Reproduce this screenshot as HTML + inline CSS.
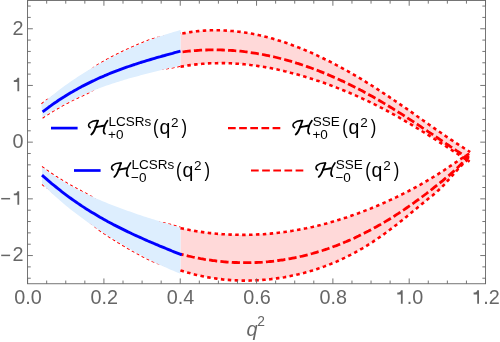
<!DOCTYPE html>
<html><head><meta charset="utf-8"><title>plot</title><style>html,body{margin:0;padding:0;background:#fff;overflow:hidden}</style></head><body><svg width="500" height="342" viewBox="0 0 500 342" style="display:block;will-change:transform;font-family:'Liberation Sans',sans-serif">
<rect width="500" height="342" fill="#ffffff"/>
<polygon points="180.5,33.9 182.5,33.5 184.5,33.1 186.5,32.8 188.5,32.4 190.5,32.1 192.5,31.8 194.5,31.6 196.5,31.3 198.5,31.1 200.5,30.9 202.5,30.8 204.5,30.6 206.5,30.5 208.5,30.4 210.5,30.3 212.5,30.3 214.5,30.3 216.5,30.3 218.5,30.3 220.5,30.3 222.5,30.4 224.5,30.5 226.5,30.6 228.5,30.7 230.5,30.9 232.5,31.0 234.5,31.2 236.5,31.4 238.5,31.7 240.5,31.9 242.5,32.2 244.5,32.5 246.5,32.8 248.5,33.1 250.5,33.5 252.5,33.8 254.5,34.2 256.5,34.6 258.5,35.1 260.5,35.5 262.5,36.0 264.5,36.5 266.5,37.0 268.5,37.5 270.5,38.0 272.5,38.6 274.5,39.2 276.5,39.8 278.5,40.4 280.5,41.0 282.5,41.7 284.5,42.3 286.5,43.0 288.5,43.7 290.5,44.4 292.5,45.2 294.5,45.9 296.5,46.7 298.5,47.4 300.5,48.2 302.5,49.1 304.5,49.9 306.5,50.7 308.5,51.6 310.5,52.4 312.5,53.3 314.5,54.2 316.5,55.1 318.5,56.1 320.5,57.0 322.5,58.0 324.5,59.0 326.5,59.9 328.5,60.9 330.5,61.9 332.5,63.0 334.5,64.0 336.5,65.1 338.5,66.1 340.5,67.2 342.5,68.3 344.5,69.4 346.5,70.5 348.5,71.6 350.5,72.8 352.5,73.9 354.5,75.1 356.5,76.3 358.5,77.4 360.5,78.6 362.5,79.8 364.5,81.1 366.5,82.3 368.5,83.5 370.5,84.8 372.5,86.0 374.5,87.3 376.5,88.6 378.5,89.9 380.5,91.1 382.5,92.5 384.5,93.8 386.5,95.1 388.5,96.4 390.5,97.8 392.5,99.1 394.5,100.5 396.5,101.8 398.5,103.2 400.5,104.6 402.5,106.0 404.5,107.4 406.5,108.7 408.5,110.1 410.5,111.5 412.5,112.9 414.5,114.3 416.5,115.8 418.5,117.2 420.5,118.6 422.5,120.0 424.5,121.4 426.5,122.8 428.5,124.2 430.5,125.6 432.5,127.0 434.5,128.4 436.5,129.8 438.5,131.2 440.5,132.5 442.5,133.9 444.5,135.3 446.5,136.7 448.5,138.0 450.5,139.4 452.5,140.7 454.5,142.0 456.5,143.3 458.5,144.6 460.5,145.9 462.5,147.2 464.5,148.5 466.5,149.8 468.5,151.0 470.2,152.0 469.6,161.7 468.5,160.9 466.5,159.7 464.5,158.4 462.5,157.1 460.5,155.8 458.5,154.5 456.5,153.2 454.5,151.9 452.5,150.6 450.5,149.3 448.5,148.0 446.5,146.7 444.5,145.4 442.5,144.1 440.5,142.8 438.5,141.6 436.5,140.3 434.5,139.0 432.5,137.7 430.5,136.5 428.5,135.2 426.5,134.0 424.5,132.7 422.5,131.5 420.5,130.2 418.5,129.0 416.5,127.8 414.5,126.6 412.5,125.3 410.5,124.1 408.5,123.0 406.5,121.8 404.5,120.6 402.5,119.4 400.5,118.3 398.5,117.1 396.5,116.0 394.5,114.9 392.5,113.8 390.5,112.7 388.5,111.6 386.5,110.5 384.5,109.5 382.5,108.4 380.5,107.4 378.5,106.4 376.5,105.3 374.5,104.3 372.5,103.4 370.5,102.4 368.5,101.4 366.5,100.5 364.5,99.5 362.5,98.6 360.5,97.7 358.5,96.8 356.5,95.9 354.5,95.0 352.5,94.1 350.5,93.3 348.5,92.4 346.5,91.6 344.5,90.8 342.5,90.0 340.5,89.2 338.5,88.4 336.5,87.6 334.5,86.8 332.5,86.1 330.5,85.3 328.5,84.6 326.5,83.8 324.5,83.1 322.5,82.4 320.5,81.7 318.5,81.0 316.5,80.4 314.5,79.7 312.5,79.1 310.5,78.4 308.5,77.8 306.5,77.2 304.5,76.6 302.5,76.0 300.5,75.4 298.5,74.8 296.5,74.3 294.5,73.7 292.5,73.2 290.5,72.7 288.5,72.1 286.5,71.6 284.5,71.2 282.5,70.7 280.5,70.2 278.5,69.8 276.5,69.3 274.5,68.9 272.5,68.5 270.5,68.1 268.5,67.7 266.5,67.4 264.5,67.0 262.5,66.7 260.5,66.4 258.5,66.1 256.5,65.8 254.5,65.5 252.5,65.2 250.5,65.0 248.5,64.7 246.5,64.5 244.5,64.3 242.5,64.1 240.5,63.9 238.5,63.8 236.5,63.7 234.5,63.5 232.5,63.4 230.5,63.3 228.5,63.3 226.5,63.2 224.5,63.1 222.5,63.1 220.5,63.1 218.5,63.1 216.5,63.2 214.5,63.2 212.5,63.3 210.5,63.3 208.5,63.4 206.5,63.5 204.5,63.7 202.5,63.8 200.5,64.0 198.5,64.2 196.5,64.4 194.5,64.6 192.5,64.9 190.5,65.1 188.5,65.4 186.5,65.7 184.5,66.0 182.5,66.4 180.5,66.7" fill="#ffd9d9"/>
<polygon points="180.5,228.2 182.5,228.6 184.5,229.0 186.5,229.4 188.5,229.8 190.5,230.2 192.5,230.5 194.5,230.9 196.5,231.2 198.5,231.5 200.5,231.8 202.5,232.1 204.5,232.4 206.5,232.6 208.5,232.9 210.5,233.1 212.5,233.3 214.5,233.5 216.5,233.7 218.5,233.9 220.5,234.0 222.5,234.2 224.5,234.3 226.5,234.4 228.5,234.5 230.5,234.6 232.5,234.7 234.5,234.7 236.5,234.8 238.5,234.8 240.5,234.9 242.5,234.9 244.5,234.9 246.5,234.8 248.5,234.8 250.5,234.8 252.5,234.7 254.5,234.6 256.5,234.5 258.5,234.4 260.5,234.3 262.5,234.2 264.5,234.1 266.5,233.9 268.5,233.8 270.5,233.6 272.5,233.4 274.5,233.2 276.5,233.0 278.5,232.7 280.5,232.5 282.5,232.2 284.5,232.0 286.5,231.7 288.5,231.4 290.5,231.1 292.5,230.8 294.5,230.4 296.5,230.1 298.5,229.7 300.5,229.4 302.5,229.0 304.5,228.6 306.5,228.2 308.5,227.7 310.5,227.3 312.5,226.9 314.5,226.4 316.5,225.9 318.5,225.5 320.5,225.0 322.5,224.4 324.5,223.9 326.5,223.4 328.5,222.8 330.5,222.3 332.5,221.7 334.5,221.1 336.5,220.5 338.5,219.9 340.5,219.3 342.5,218.7 344.5,218.0 346.5,217.4 348.5,216.7 350.5,216.0 352.5,215.3 354.5,214.6 356.5,213.9 358.5,213.2 360.5,212.4 362.5,211.7 364.5,210.9 366.5,210.1 368.5,209.4 370.5,208.6 372.5,207.7 374.5,206.9 376.5,206.1 378.5,205.2 380.5,204.4 382.5,203.5 384.5,202.6 386.5,201.7 388.5,200.8 390.5,199.9 392.5,199.0 394.5,198.0 396.5,197.1 398.5,196.1 400.5,195.1 402.5,194.1 404.5,193.1 406.5,192.1 408.5,191.1 410.5,190.0 412.5,189.0 414.5,187.9 416.5,186.8 418.5,185.7 420.5,184.6 422.5,183.4 424.5,182.3 426.5,181.1 428.5,179.9 430.5,178.7 432.5,177.5 434.5,176.3 436.5,175.1 438.5,173.8 440.5,172.5 442.5,171.3 444.5,170.0 446.5,168.6 448.5,167.3 450.5,165.9 452.5,164.6 454.5,163.2 456.5,161.9 458.5,160.5 460.5,159.2 462.5,157.9 464.5,156.6 466.5,155.3 468.5,154.1 470.2,153.1 469.5,158.2 468.5,159.0 466.5,160.7 464.5,162.5 462.5,164.4 460.5,166.5 458.5,168.6 456.5,170.8 454.5,173.1 452.5,175.4 450.5,177.6 448.5,179.9 446.5,182.1 444.5,184.3 442.5,186.4 440.5,188.4 438.5,190.2 436.5,192.0 434.5,193.7 432.5,195.4 430.5,197.0 428.5,198.6 426.5,200.2 424.5,201.9 422.5,203.5 420.5,205.2 418.5,206.8 416.5,208.5 414.5,210.1 412.5,211.7 410.5,213.4 408.5,215.0 406.5,216.7 404.5,218.3 402.5,219.9 400.5,221.5 398.5,223.1 396.5,224.7 394.5,226.2 392.5,227.8 390.5,229.3 388.5,230.8 386.5,232.3 384.5,233.8 382.5,235.2 380.5,236.6 378.5,238.0 376.5,239.4 374.5,240.7 372.5,242.1 370.5,243.4 368.5,244.6 366.5,245.9 364.5,247.1 362.5,248.3 360.5,249.4 358.5,250.6 356.5,251.7 354.5,252.8 352.5,253.8 350.5,254.9 348.5,255.9 346.5,256.9 344.5,257.9 342.5,258.8 340.5,259.8 338.5,260.7 336.5,261.6 334.5,262.4 332.5,263.3 330.5,264.1 328.5,264.9 326.5,265.6 324.5,266.4 322.5,267.1 320.5,267.8 318.5,268.5 316.5,269.2 314.5,269.8 312.5,270.5 310.5,271.1 308.5,271.6 306.5,272.2 304.5,272.8 302.5,273.3 300.5,273.8 298.5,274.3 296.5,274.7 294.5,275.2 292.5,275.6 290.5,276.0 288.5,276.4 286.5,276.8 284.5,277.2 282.5,277.5 280.5,277.8 278.5,278.1 276.5,278.4 274.5,278.7 272.5,278.9 270.5,279.2 268.5,279.4 266.5,279.6 264.5,279.8 262.5,279.9 260.5,280.1 258.5,280.2 256.5,280.3 254.5,280.4 252.5,280.5 250.5,280.5 248.5,280.6 246.5,280.6 244.5,280.6 242.5,280.6 240.5,280.5 238.5,280.5 236.5,280.4 234.5,280.3 232.5,280.2 230.5,280.1 228.5,279.9 226.5,279.8 224.5,279.6 222.5,279.4 220.5,279.1 218.5,278.9 216.5,278.6 214.5,278.3 212.5,278.0 210.5,277.7 208.5,277.4 206.5,277.0 204.5,276.6 202.5,276.2 200.5,275.8 198.5,275.3 196.5,274.9 194.5,274.4 192.5,273.9 190.5,273.3 188.5,272.8 186.5,272.2 184.5,271.6 182.5,271.0 180.5,270.4" fill="#ffd9d9"/>
<path d="M41.4 103.8 L42.4 103.0 L43.4 102.2 L44.4 101.4 L45.4 100.7 L46.4 99.9 L47.4 99.3 L48.4 99.0 L49.4 98.6 L50.4 98.1 L51.4 97.4 L52.4 96.7 L53.4 95.9 L54.4 95.2 L55.4 94.5 L56.4 93.8 L57.4 93.1 L58.4 92.4 L59.4 91.7 L60.4 91.0 L61.4 90.2 L62.4 89.5 L63.4 88.8 L64.4 88.0 L65.4 87.3 L66.4 86.6 L67.4 85.9 L68.4 85.2 L69.4 84.5 L70.4 83.8 L71.4 83.1 L72.4 82.4 L73.4 81.7 L74.4 81.1 L75.4 80.4 L76.4 79.7 L77.4 79.1 L78.4 78.4 L79.4 77.8 L80.4 77.2 L81.4 76.5 L82.4 75.9 L83.4 75.3 L84.4 74.7 L85.4 74.0 L86.4 73.2 L87.4 72.4 L88.4 71.6 L89.4 70.8 L90.4 70.0 L91.4 69.2 L92.4 68.4 L93.4 67.7 L94.4 66.9 L95.4 66.1 L96.4 65.4 L97.4 64.7 L98.4 64.1 L99.4 63.5 L100.4 62.9 L101.4 62.4 L102.4 61.8 L103.4 61.2 L104.4 60.6 L105.4 60.1 L106.4 59.5 L107.4 58.9 L108.4 58.4 L109.4 57.9 L110.4 57.3 L111.4 56.8 L112.4 56.3 L113.4 55.8 L114.4 55.3 L115.4 54.8 L116.4 54.3 L117.4 53.8 L118.4 53.3 L119.4 52.8 L120.4 52.3 L121.4 51.8 L122.4 51.3 L123.4 50.8 L124.4 50.3 L125.4 49.9 L126.4 49.4 L127.4 48.9 L128.4 48.5 L129.4 48.0 L130.4 47.5 L131.4 47.1 L132.4 46.7 L133.4 46.2 L134.4 45.8 L135.4 45.4 L136.4 44.9 L137.4 44.5 L138.4 44.1 L139.4 43.7 L140.4 43.3 L141.4 42.9 L142.4 42.5 L143.4 42.1 L144.4 41.7 L145.4 41.3 L146.4 40.9 L147.4 40.5 L148.4 40.1 L149.4 39.7 L150.4 39.4 L151.4 39.1 L152.4 38.8 L153.4 38.5 L154.4 38.2 L155.4 37.9 L156.4 37.6 L157.4 37.3 L158.4 37.2 L159.4 37.1 L160.4 36.9 L161.4 36.8 L162.4 36.5 L163.4 36.3 L164.4 36.1 L165.4 35.9 L166.4 35.6 L167.4 35.4 L168.4 35.2 L169.4 35.0 L170.4 34.8 L171.4 34.6 L172.4 34.5 L173.4 34.3 L174.4 34.1 L175.4 33.9 L176.4 33.8 L177.4 33.6 L178.4 33.4 L179.4 33.3 L180.4 33.1 L180.5 33.1" fill="none" stroke="#ff0000" stroke-width="1.05" stroke-dasharray="3 2.6"/>
<path d="M42.6 118.2 L43.6 117.5 L44.6 116.8 L45.6 116.2 L46.6 115.5 L47.6 114.9 L48.6 114.2 L49.6 113.6 L50.6 113.0 L51.6 112.3 L52.6 111.7 L53.6 111.1 L54.6 110.5 L55.6 109.9 L56.6 109.3 L57.6 108.7 L58.6 108.2 L59.6 107.6 L60.6 107.0 L61.6 106.5 L62.6 105.9 L63.6 105.3 L64.6 104.8 L65.6 104.3 L66.6 103.7 L67.6 103.2 L68.6 102.7 L69.6 102.2 L70.6 101.6 L71.6 101.1 L72.6 100.6 L73.6 100.1 L74.6 99.6 L75.6 99.1 L76.6 98.7 L77.6 98.2 L78.6 97.7 L79.6 97.2 L80.6 96.8 L81.6 96.3 L82.6 95.9 L83.6 95.4 L84.6 95.0 L85.6 94.5 L86.6 94.0 L87.6 93.5 L88.6 93.0 L89.6 92.5 L90.6 92.0 L91.6 91.3 L92.6 90.6 L93.6 89.9 L94.6 89.2 L95.6 88.7 L96.6 88.2 L97.6 87.8 L98.6 87.3 L99.6 86.9 L100.6 86.4 L101.6 86.0 L102.6 85.6 L103.6 85.1 L104.6 84.7 L105.6 84.3 L106.6 83.9 L107.6 83.4 L108.6 83.0 L109.6 82.6 L110.6 82.3 L111.6 81.9 L112.6 81.6 L113.6 81.3 L114.6 80.9 L115.6 80.6 L116.6 80.3 L117.6 80.0 L118.6 79.7 L119.6 79.3 L120.6 79.0 L121.6 78.7 L122.6 78.4 L123.6 78.1 L124.6 77.8 L125.6 77.5 L126.6 77.2 L127.6 76.9 L128.6 76.6 L129.6 76.4 L130.6 76.1 L131.6 75.8 L132.6 75.5 L133.6 75.2 L134.6 74.9 L135.6 74.7 L136.6 74.4 L137.6 74.1 L138.6 73.9 L139.6 73.6 L140.6 73.3 L141.6 73.1 L142.6 72.8 L143.6 72.5 L144.6 72.3 L145.6 72.0 L146.6 71.7 L147.6 71.5 L148.6 71.2 L149.6 71.0 L150.6 70.8 L151.6 70.6 L152.6 70.5 L153.6 70.3 L154.6 70.2 L155.6 70.0 L156.6 69.9 L157.6 69.7 L158.6 69.6 L159.6 69.5 L160.6 69.3 L161.6 69.2 L162.6 69.1 L163.6 69.1 L164.6 69.1 L165.6 69.1 L166.6 69.0 L167.6 68.8 L168.6 68.6 L169.6 68.5 L170.6 68.3 L171.6 68.2 L172.6 68.0 L173.6 67.8 L174.6 67.5 L175.6 67.3 L176.6 67.1 L177.6 66.9 L178.6 66.7 L179.6 66.5 L180.5 66.3" fill="none" stroke="#ff0000" stroke-width="1.05" stroke-dasharray="3 2.6"/>
<path d="M42.0 166.5 L43.0 167.2 L44.0 167.9 L45.0 168.7 L46.0 169.4 L47.0 170.1 L48.0 170.8 L49.0 171.5 L50.0 172.2 L51.0 172.9 L52.0 173.5 L53.0 174.2 L54.0 174.9 L55.0 175.5 L56.0 176.2 L57.0 176.8 L58.0 177.5 L59.0 178.1 L60.0 178.7 L61.0 179.3 L62.0 179.9 L63.0 180.5 L64.0 181.1 L65.0 181.7 L66.0 182.3 L67.0 182.9 L68.0 183.5 L69.0 184.1 L70.0 184.6 L71.0 185.2 L72.0 185.8 L73.0 186.3 L74.0 186.9 L75.0 187.4 L76.0 187.9 L77.0 188.5 L78.0 189.0 L79.0 189.5 L80.0 190.0 L81.0 190.5 L82.0 191.1 L83.0 191.6 L84.0 192.1 L85.0 192.6 L86.0 193.1 L87.0 193.7 L88.0 194.2 L89.0 194.8 L90.0 195.4 L91.0 195.9 L92.0 196.7 L93.0 197.4 L94.0 198.2 L95.0 198.9 L96.0 199.4 L97.0 199.9 L98.0 200.4 L99.0 200.9 L100.0 201.4 L101.0 201.9 L102.0 202.4 L103.0 202.9 L104.0 203.4 L105.0 203.9 L106.0 204.3 L107.0 204.8 L108.0 205.3 L109.0 205.8 L110.0 206.2 L111.0 206.6 L112.0 207.0 L113.0 207.4 L114.0 207.8 L115.0 208.2 L116.0 208.5 L117.0 208.9 L118.0 209.3 L119.0 209.7 L120.0 210.0 L121.0 210.4 L122.0 210.8 L123.0 211.1 L124.0 211.5 L125.0 211.9 L126.0 212.2 L127.0 212.6 L128.0 212.9 L129.0 213.3 L130.0 213.6 L131.0 214.0 L132.0 214.3 L133.0 214.7 L134.0 215.0 L135.0 215.4 L136.0 215.7 L137.0 216.0 L138.0 216.4 L139.0 216.7 L140.0 217.0 L141.0 217.4 L142.0 217.7 L143.0 218.0 L144.0 218.4 L145.0 218.7 L146.0 219.0 L147.0 219.3 L148.0 219.7 L149.0 220.0 L150.0 220.3 L151.0 220.5 L152.0 220.7 L153.0 220.9 L154.0 221.1 L155.0 221.3 L156.0 221.5 L157.0 221.7 L158.0 221.9 L159.0 222.1 L160.0 222.3 L161.0 222.4 L162.0 222.4 L163.0 222.5 L164.0 222.6 L165.0 222.9 L166.0 223.1 L167.0 223.4 L168.0 223.6 L169.0 223.9 L170.0 224.1 L171.0 224.4 L172.0 224.6 L173.0 224.9 L174.0 225.2 L175.0 225.5 L176.0 225.8 L177.0 226.1 L178.0 226.4 L179.0 226.7 L180.0 227.0 L180.5 227.2" fill="none" stroke="#ff0000" stroke-width="1.05" stroke-dasharray="3 2.6"/>
<path d="M42.0 184.5 L43.0 185.3 L44.0 186.1 L45.0 186.9 L46.0 187.4 L47.0 187.9 L48.0 188.4 L49.0 189.3 L50.0 190.2 L51.0 191.0 L52.0 191.9 L53.0 192.8 L54.0 193.6 L55.0 194.5 L56.0 195.3 L57.0 196.1 L58.0 197.0 L59.0 197.8 L60.0 198.6 L61.0 199.4 L62.0 200.3 L63.0 201.2 L64.0 202.0 L65.0 202.8 L66.0 203.7 L67.0 204.5 L68.0 205.3 L69.0 206.1 L70.0 206.9 L71.0 207.7 L72.0 208.5 L73.0 209.3 L74.0 210.1 L75.0 210.9 L76.0 211.6 L77.0 212.4 L78.0 213.1 L79.0 213.9 L80.0 214.6 L81.0 215.4 L82.0 216.1 L83.0 216.8 L84.0 217.6 L85.0 218.3 L86.0 219.2 L87.0 220.1 L88.0 220.9 L89.0 221.8 L90.0 222.7 L91.0 223.6 L92.0 224.4 L93.0 225.3 L94.0 226.2 L95.0 227.0 L96.0 227.9 L97.0 228.7 L98.0 229.6 L99.0 230.3 L100.0 231.0 L101.0 231.7 L102.0 232.4 L103.0 233.0 L104.0 233.7 L105.0 234.4 L106.0 235.1 L107.0 235.8 L108.0 236.5 L109.0 237.1 L110.0 237.7 L111.0 238.3 L112.0 239.0 L113.0 239.6 L114.0 240.2 L115.0 240.8 L116.0 241.5 L117.0 242.1 L118.0 242.7 L119.0 243.3 L120.0 243.9 L121.0 244.5 L122.0 245.1 L123.0 245.7 L124.0 246.3 L125.0 246.9 L126.0 247.5 L127.0 248.1 L128.0 248.7 L129.0 249.2 L130.0 249.8 L131.0 250.4 L132.0 251.0 L133.0 251.5 L134.0 252.1 L135.0 252.7 L136.0 253.2 L137.0 253.8 L138.0 254.3 L139.0 254.9 L140.0 255.4 L141.0 255.9 L142.0 256.5 L143.0 257.0 L144.0 257.5 L145.0 258.0 L146.0 258.5 L147.0 259.0 L148.0 259.5 L149.0 260.0 L150.0 260.5 L151.0 260.9 L152.0 261.4 L153.0 261.8 L154.0 262.2 L155.0 262.6 L156.0 263.0 L157.0 263.5 L158.0 263.7 L159.0 263.9 L160.0 264.2 L161.0 264.4 L162.0 264.6 L163.0 265.0 L164.0 265.3 L165.0 265.7 L166.0 266.0 L167.0 266.4 L168.0 266.7 L169.0 267.0 L170.0 267.4 L171.0 267.7 L172.0 268.1 L173.0 268.4 L174.0 268.7 L175.0 269.1 L176.0 269.4 L177.0 269.7 L178.0 270.0 L179.0 270.3 L180.0 270.6 L180.5 270.8" fill="none" stroke="#ff0000" stroke-width="1.05" stroke-dasharray="3 2.6"/>
<polygon points="41.4,104.7 43.4,102.9 45.4,101.1 47.4,99.4 49.4,97.7 51.4,96.1 53.4,94.5 55.4,92.9 57.4,91.3 59.4,89.8 61.4,88.2 63.4,86.8 65.4,85.3 67.4,83.9 69.4,82.5 71.4,81.1 73.4,79.7 75.4,78.4 77.4,77.1 79.4,75.8 81.4,74.5 83.4,73.3 85.4,72.0 87.4,70.8 89.4,69.6 91.4,68.5 93.4,67.3 95.4,66.2 97.4,65.0 99.4,63.9 101.4,62.8 103.4,61.7 105.4,60.7 107.4,59.6 109.4,58.6 111.4,57.5 113.4,56.5 115.4,55.5 117.4,54.5 119.4,53.5 121.4,52.5 123.4,51.6 125.4,50.6 127.4,49.7 129.4,48.8 131.4,47.9 133.4,47.0 135.4,46.1 137.4,45.2 139.4,44.4 141.4,43.6 143.4,42.7 145.4,41.9 147.4,41.1 149.4,40.3 151.4,39.6 153.4,38.8 155.4,38.1 157.4,37.3 159.4,36.6 161.4,35.9 163.4,35.2 165.4,34.6 167.4,33.9 169.4,33.3 171.4,32.7 173.4,32.0 175.4,31.4 177.4,30.9 179.4,30.3 180.5,30.0 180.5,65.5 178.6,65.9 176.6,66.4 174.6,66.9 172.6,67.4 170.6,67.8 168.6,68.3 166.6,68.8 164.6,69.3 162.6,69.8 160.6,70.3 158.6,70.7 156.6,71.2 154.6,71.7 152.6,72.2 150.6,72.7 148.6,73.2 146.6,73.7 144.6,74.3 142.6,74.8 140.6,75.3 138.6,75.9 136.6,76.4 134.6,76.9 132.6,77.5 130.6,78.1 128.6,78.6 126.6,79.2 124.6,79.8 122.6,80.4 120.6,81.0 118.6,81.7 116.6,82.3 114.6,82.9 112.6,83.6 110.6,84.3 108.6,84.9 106.6,85.6 104.6,86.3 102.6,87.1 100.6,87.8 98.6,88.6 96.6,89.3 94.6,90.1 92.6,90.9 90.6,91.7 88.6,92.6 86.6,93.4 84.6,94.3 82.6,95.2 80.6,96.1 78.6,97.0 76.6,97.9 74.6,98.9 72.6,99.9 70.6,100.9 68.6,101.9 66.6,102.9 64.6,104.0 62.6,105.1 60.6,106.2 58.6,107.3 56.6,108.5 54.6,109.7 52.6,110.9 50.6,112.1 48.6,113.4 46.6,114.6 44.6,115.9 42.6,117.3" fill="#ddeefe"/>
<polygon points="42.0,167.4 44.0,168.8 46.0,170.3 48.0,171.7 50.0,173.0 52.0,174.4 54.0,175.7 56.0,177.0 58.0,178.3 60.0,179.5 62.0,180.7 64.0,181.9 66.0,183.1 68.0,184.3 70.0,185.4 72.0,186.5 74.0,187.6 76.0,188.7 78.0,189.7 80.0,190.8 82.0,191.8 84.0,192.8 86.0,193.7 88.0,194.7 90.0,195.6 92.0,196.6 94.0,197.5 96.0,198.4 98.0,199.2 100.0,200.1 102.0,201.0 104.0,201.8 106.0,202.6 108.0,203.4 110.0,204.2 112.0,205.0 114.0,205.8 116.0,206.5 118.0,207.3 120.0,208.0 122.0,208.8 124.0,209.5 126.0,210.2 128.0,210.9 130.0,211.6 132.0,212.3 134.0,213.0 136.0,213.7 138.0,214.4 140.0,215.0 142.0,215.7 144.0,216.4 146.0,217.0 148.0,217.7 150.0,218.3 152.0,218.9 154.0,219.6 156.0,220.2 158.0,220.8 160.0,221.5 162.0,222.1 164.0,222.7 166.0,223.3 168.0,224.0 170.0,224.6 172.0,225.2 174.0,225.8 176.0,226.4 178.0,227.1 180.0,227.7 180.5,227.9 180.5,273.6 180.0,273.4 178.0,272.7 176.0,271.9 174.0,271.1 172.0,270.2 170.0,269.4 168.0,268.5 166.0,267.6 164.0,266.7 162.0,265.8 160.0,264.9 158.0,263.9 156.0,263.0 154.0,262.0 152.0,261.0 150.0,260.0 148.0,259.0 146.0,257.9 144.0,256.9 142.0,255.8 140.0,254.7 138.0,253.6 136.0,252.5 134.0,251.4 132.0,250.3 130.0,249.1 128.0,248.0 126.0,246.8 124.0,245.6 122.0,244.4 120.0,243.2 118.0,242.0 116.0,240.8 114.0,239.5 112.0,238.3 110.0,237.0 108.0,235.8 106.0,234.5 104.0,233.2 102.0,231.9 100.0,230.6 98.0,229.3 96.0,227.9 94.0,226.6 92.0,225.2 90.0,223.8 88.0,222.4 86.0,221.0 84.0,219.6 82.0,218.1 80.0,216.6 78.0,215.1 76.0,213.6 74.0,212.1 72.0,210.5 70.0,208.9 68.0,207.3 66.0,205.7 64.0,204.0 62.0,202.3 60.0,200.6 58.0,198.8 56.0,197.0 54.0,195.2 52.0,193.4 50.0,191.5 48.0,189.6 46.0,187.6 44.0,185.6 42.0,183.6" fill="#ddeefe"/>
<path d="M180.5 33.9 L182.5 33.5 L184.5 33.1 L186.5 32.8 L188.5 32.4 L190.5 32.1 L192.5 31.8 L194.5 31.6 L196.5 31.3 L198.5 31.1 L200.5 30.9 L202.5 30.8 L204.5 30.6 L206.5 30.5 L208.5 30.4 L210.5 30.3 L212.5 30.3 L214.5 30.3 L216.5 30.3 L218.5 30.3 L220.5 30.3 L222.5 30.4 L224.5 30.5 L226.5 30.6 L228.5 30.7 L230.5 30.9 L232.5 31.0 L234.5 31.2 L236.5 31.4 L238.5 31.7 L240.5 31.9 L242.5 32.2 L244.5 32.5 L246.5 32.8 L248.5 33.1 L250.5 33.5 L252.5 33.8 L254.5 34.2 L256.5 34.6 L258.5 35.1 L260.5 35.5 L262.5 36.0 L264.5 36.5 L266.5 37.0 L268.5 37.5 L270.5 38.0 L272.5 38.6 L274.5 39.2 L276.5 39.8 L278.5 40.4 L280.5 41.0 L282.5 41.7 L284.5 42.3 L286.5 43.0 L288.5 43.7 L290.5 44.4 L292.5 45.2 L294.5 45.9 L296.5 46.7 L298.5 47.4 L300.5 48.2 L302.5 49.1 L304.5 49.9 L306.5 50.7 L308.5 51.6 L310.5 52.4 L312.5 53.3 L314.5 54.2 L316.5 55.1 L318.5 56.1 L320.5 57.0 L322.5 58.0 L324.5 59.0 L326.5 59.9 L328.5 60.9 L330.5 61.9 L332.5 63.0 L334.5 64.0 L336.5 65.1 L338.5 66.1 L340.5 67.2 L342.5 68.3 L344.5 69.4 L346.5 70.5 L348.5 71.6 L350.5 72.8 L352.5 73.9 L354.5 75.1 L356.5 76.3 L358.5 77.4 L360.5 78.6 L362.5 79.8 L364.5 81.1 L366.5 82.3 L368.5 83.5 L370.5 84.8 L372.5 86.0 L374.5 87.3 L376.5 88.6 L378.5 89.9 L380.5 91.1 L382.5 92.5 L384.5 93.8 L386.5 95.1 L388.5 96.4 L390.5 97.8 L392.5 99.1 L394.5 100.5 L396.5 101.8 L398.5 103.2 L400.5 104.6 L402.5 106.0 L404.5 107.4 L406.5 108.7 L408.5 110.1 L410.5 111.5 L412.5 112.9 L414.5 114.3 L416.5 115.8 L418.5 117.2 L420.5 118.6 L422.5 120.0 L424.5 121.4 L426.5 122.8 L428.5 124.2 L430.5 125.6 L432.5 127.0 L434.5 128.4 L436.5 129.8 L438.5 131.2 L440.5 132.5 L442.5 133.9 L444.5 135.3 L446.5 136.7 L448.5 138.0 L450.5 139.4 L452.5 140.7 L454.5 142.0 L456.5 143.3 L458.5 144.6 L460.5 145.9 L462.5 147.2 L464.5 148.5 L466.5 149.8 L468.5 151.0 L470.2 152.0" fill="none" stroke="#ff0000" stroke-width="2.6" stroke-dasharray="3.5 3.4" stroke-dashoffset="5.1"/>
<path d="M180.5 66.7 L182.5 66.4 L184.5 66.0 L186.5 65.7 L188.5 65.4 L190.5 65.1 L192.5 64.9 L194.5 64.6 L196.5 64.4 L198.5 64.2 L200.5 64.0 L202.5 63.8 L204.5 63.7 L206.5 63.5 L208.5 63.4 L210.5 63.3 L212.5 63.3 L214.5 63.2 L216.5 63.2 L218.5 63.1 L220.5 63.1 L222.5 63.1 L224.5 63.1 L226.5 63.2 L228.5 63.3 L230.5 63.3 L232.5 63.4 L234.5 63.5 L236.5 63.7 L238.5 63.8 L240.5 63.9 L242.5 64.1 L244.5 64.3 L246.5 64.5 L248.5 64.7 L250.5 65.0 L252.5 65.2 L254.5 65.5 L256.5 65.8 L258.5 66.1 L260.5 66.4 L262.5 66.7 L264.5 67.0 L266.5 67.4 L268.5 67.7 L270.5 68.1 L272.5 68.5 L274.5 68.9 L276.5 69.3 L278.5 69.8 L280.5 70.2 L282.5 70.7 L284.5 71.2 L286.5 71.6 L288.5 72.1 L290.5 72.7 L292.5 73.2 L294.5 73.7 L296.5 74.3 L298.5 74.8 L300.5 75.4 L302.5 76.0 L304.5 76.6 L306.5 77.2 L308.5 77.8 L310.5 78.4 L312.5 79.1 L314.5 79.7 L316.5 80.4 L318.5 81.0 L320.5 81.7 L322.5 82.4 L324.5 83.1 L326.5 83.8 L328.5 84.6 L330.5 85.3 L332.5 86.1 L334.5 86.8 L336.5 87.6 L338.5 88.4 L340.5 89.2 L342.5 90.0 L344.5 90.8 L346.5 91.6 L348.5 92.4 L350.5 93.3 L352.5 94.1 L354.5 95.0 L356.5 95.9 L358.5 96.8 L360.5 97.7 L362.5 98.6 L364.5 99.5 L366.5 100.5 L368.5 101.4 L370.5 102.4 L372.5 103.4 L374.5 104.3 L376.5 105.3 L378.5 106.4 L380.5 107.4 L382.5 108.4 L384.5 109.5 L386.5 110.5 L388.5 111.6 L390.5 112.7 L392.5 113.8 L394.5 114.9 L396.5 116.0 L398.5 117.1 L400.5 118.3 L402.5 119.4 L404.5 120.6 L406.5 121.8 L408.5 123.0 L410.5 124.1 L412.5 125.3 L414.5 126.6 L416.5 127.8 L418.5 129.0 L420.5 130.2 L422.5 131.5 L424.5 132.7 L426.5 134.0 L428.5 135.2 L430.5 136.5 L432.5 137.7 L434.5 139.0 L436.5 140.3 L438.5 141.6 L440.5 142.8 L442.5 144.1 L444.5 145.4 L446.5 146.7 L448.5 148.0 L450.5 149.3 L452.5 150.6 L454.5 151.9 L456.5 153.2 L458.5 154.5 L460.5 155.8 L462.5 157.1 L464.5 158.4 L466.5 159.7 L468.5 160.9 L469.6 161.7" fill="none" stroke="#ff0000" stroke-width="2.6" stroke-dasharray="3.5 3.4" stroke-dashoffset="0"/>
<path d="M180.5 228.2 L182.5 228.6 L184.5 229.0 L186.5 229.4 L188.5 229.8 L190.5 230.2 L192.5 230.5 L194.5 230.9 L196.5 231.2 L198.5 231.5 L200.5 231.8 L202.5 232.1 L204.5 232.4 L206.5 232.6 L208.5 232.9 L210.5 233.1 L212.5 233.3 L214.5 233.5 L216.5 233.7 L218.5 233.9 L220.5 234.0 L222.5 234.2 L224.5 234.3 L226.5 234.4 L228.5 234.5 L230.5 234.6 L232.5 234.7 L234.5 234.7 L236.5 234.8 L238.5 234.8 L240.5 234.9 L242.5 234.9 L244.5 234.9 L246.5 234.8 L248.5 234.8 L250.5 234.8 L252.5 234.7 L254.5 234.6 L256.5 234.5 L258.5 234.4 L260.5 234.3 L262.5 234.2 L264.5 234.1 L266.5 233.9 L268.5 233.8 L270.5 233.6 L272.5 233.4 L274.5 233.2 L276.5 233.0 L278.5 232.7 L280.5 232.5 L282.5 232.2 L284.5 232.0 L286.5 231.7 L288.5 231.4 L290.5 231.1 L292.5 230.8 L294.5 230.4 L296.5 230.1 L298.5 229.7 L300.5 229.4 L302.5 229.0 L304.5 228.6 L306.5 228.2 L308.5 227.7 L310.5 227.3 L312.5 226.9 L314.5 226.4 L316.5 225.9 L318.5 225.5 L320.5 225.0 L322.5 224.4 L324.5 223.9 L326.5 223.4 L328.5 222.8 L330.5 222.3 L332.5 221.7 L334.5 221.1 L336.5 220.5 L338.5 219.9 L340.5 219.3 L342.5 218.7 L344.5 218.0 L346.5 217.4 L348.5 216.7 L350.5 216.0 L352.5 215.3 L354.5 214.6 L356.5 213.9 L358.5 213.2 L360.5 212.4 L362.5 211.7 L364.5 210.9 L366.5 210.1 L368.5 209.4 L370.5 208.6 L372.5 207.7 L374.5 206.9 L376.5 206.1 L378.5 205.2 L380.5 204.4 L382.5 203.5 L384.5 202.6 L386.5 201.7 L388.5 200.8 L390.5 199.9 L392.5 199.0 L394.5 198.0 L396.5 197.1 L398.5 196.1 L400.5 195.1 L402.5 194.1 L404.5 193.1 L406.5 192.1 L408.5 191.1 L410.5 190.0 L412.5 189.0 L414.5 187.9 L416.5 186.8 L418.5 185.7 L420.5 184.6 L422.5 183.4 L424.5 182.3 L426.5 181.1 L428.5 179.9 L430.5 178.7 L432.5 177.5 L434.5 176.3 L436.5 175.1 L438.5 173.8 L440.5 172.5 L442.5 171.3 L444.5 170.0 L446.5 168.6 L448.5 167.3 L450.5 165.9 L452.5 164.6 L454.5 163.2 L456.5 161.9 L458.5 160.5 L460.5 159.2 L462.5 157.9 L464.5 156.6 L466.5 155.3 L468.5 154.1 L470.2 153.1" fill="none" stroke="#ff0000" stroke-width="2.6" stroke-dasharray="3.5 3.4" stroke-dashoffset="0"/>
<path d="M180.5 270.4 L182.5 271.0 L184.5 271.6 L186.5 272.2 L188.5 272.8 L190.5 273.3 L192.5 273.9 L194.5 274.4 L196.5 274.9 L198.5 275.3 L200.5 275.8 L202.5 276.2 L204.5 276.6 L206.5 277.0 L208.5 277.4 L210.5 277.7 L212.5 278.0 L214.5 278.3 L216.5 278.6 L218.5 278.9 L220.5 279.1 L222.5 279.4 L224.5 279.6 L226.5 279.8 L228.5 279.9 L230.5 280.1 L232.5 280.2 L234.5 280.3 L236.5 280.4 L238.5 280.5 L240.5 280.5 L242.5 280.6 L244.5 280.6 L246.5 280.6 L248.5 280.6 L250.5 280.5 L252.5 280.5 L254.5 280.4 L256.5 280.3 L258.5 280.2 L260.5 280.1 L262.5 279.9 L264.5 279.8 L266.5 279.6 L268.5 279.4 L270.5 279.2 L272.5 278.9 L274.5 278.7 L276.5 278.4 L278.5 278.1 L280.5 277.8 L282.5 277.5 L284.5 277.2 L286.5 276.8 L288.5 276.4 L290.5 276.0 L292.5 275.6 L294.5 275.2 L296.5 274.7 L298.5 274.3 L300.5 273.8 L302.5 273.3 L304.5 272.8 L306.5 272.2 L308.5 271.6 L310.5 271.1 L312.5 270.5 L314.5 269.8 L316.5 269.2 L318.5 268.5 L320.5 267.8 L322.5 267.1 L324.5 266.4 L326.5 265.6 L328.5 264.9 L330.5 264.1 L332.5 263.3 L334.5 262.4 L336.5 261.6 L338.5 260.7 L340.5 259.8 L342.5 258.8 L344.5 257.9 L346.5 256.9 L348.5 255.9 L350.5 254.9 L352.5 253.8 L354.5 252.8 L356.5 251.7 L358.5 250.6 L360.5 249.4 L362.5 248.3 L364.5 247.1 L366.5 245.9 L368.5 244.6 L370.5 243.4 L372.5 242.1 L374.5 240.7 L376.5 239.4 L378.5 238.0 L380.5 236.6 L382.5 235.2 L384.5 233.8 L386.5 232.3 L388.5 230.8 L390.5 229.3 L392.5 227.8 L394.5 226.2 L396.5 224.7 L398.5 223.1 L400.5 221.5 L402.5 219.9 L404.5 218.3 L406.5 216.7 L408.5 215.0 L410.5 213.4 L412.5 211.7 L414.5 210.1 L416.5 208.5 L418.5 206.8 L420.5 205.2 L422.5 203.5 L424.5 201.9 L426.5 200.2 L428.5 198.6 L430.5 197.0 L432.5 195.4 L434.5 193.7 L436.5 192.0 L438.5 190.2 L440.5 188.4 L442.5 186.4 L444.5 184.3 L446.5 182.1 L448.5 179.9 L450.5 177.6 L452.5 175.4 L454.5 173.1 L456.5 170.8 L458.5 168.6 L460.5 166.5 L462.5 164.4 L464.5 162.5 L466.5 160.7 L468.5 159.0 L469.5 158.2" fill="none" stroke="#ff0000" stroke-width="2.6" stroke-dasharray="3.5 3.4" stroke-dashoffset="0"/>
<path d="M180.5 52.2 L182.5 51.9 L184.5 51.7 L186.5 51.4 L188.5 51.2 L190.5 51.0 L192.5 50.8 L194.5 50.6 L196.5 50.5 L198.5 50.3 L200.5 50.2 L202.5 50.1 L204.5 50.0 L206.5 50.0 L208.5 49.9 L210.5 49.9 L212.5 49.8 L214.5 49.8 L216.5 49.8 L218.5 49.9 L220.5 49.9 L222.5 50.0 L224.5 50.1 L226.5 50.1 L228.5 50.3 L230.5 50.4 L232.5 50.5 L234.5 50.7 L236.5 50.8 L238.5 51.0 L240.5 51.2 L242.5 51.4 L244.5 51.7 L246.5 51.9 L248.5 52.2 L250.5 52.5 L252.5 52.8 L254.5 53.1 L256.5 53.4 L258.5 53.8 L260.5 54.1 L262.5 54.5 L264.5 54.9 L266.5 55.3 L268.5 55.7 L270.5 56.1 L272.5 56.6 L274.5 57.0 L276.5 57.5 L278.5 58.0 L280.5 58.5 L282.5 59.0 L284.5 59.5 L286.5 60.1 L288.5 60.7 L290.5 61.2 L292.5 61.8 L294.5 62.4 L296.5 63.1 L298.5 63.7 L300.5 64.3 L302.5 65.0 L304.5 65.7 L306.5 66.4 L308.5 67.1 L310.5 67.8 L312.5 68.5 L314.5 69.3 L316.5 70.0 L318.5 70.8 L320.5 71.6 L322.5 72.4 L324.5 73.2 L326.5 74.0 L328.5 74.9 L330.5 75.7 L332.5 76.6 L334.5 77.5 L336.5 78.4 L338.5 79.3 L340.5 80.2 L342.5 81.1 L344.5 82.1 L346.5 83.0 L348.5 84.0 L350.5 85.0 L352.5 86.0 L354.5 87.0 L356.5 88.0 L358.5 89.0 L360.5 90.1 L362.5 91.1 L364.5 92.2 L366.5 93.3 L368.5 94.4 L370.5 95.5 L372.5 96.6 L374.5 97.7 L376.5 98.9 L378.5 100.0 L380.5 101.2 L382.5 102.4 L384.5 103.6 L386.5 104.8 L388.5 106.0 L390.5 107.2 L392.5 108.4 L394.5 109.7 L396.5 110.9 L398.5 112.2 L400.5 113.4 L402.5 114.7 L404.5 116.0 L406.5 117.3 L408.5 118.6 L410.5 119.9 L412.5 121.2 L414.5 122.5 L416.5 123.8 L418.5 125.1 L420.5 126.4 L422.5 127.8 L424.5 129.1 L426.5 130.4 L428.5 131.8 L430.5 133.1 L432.5 134.4 L434.5 135.8 L436.5 137.1 L438.5 138.5 L440.5 139.8 L442.5 141.2 L444.5 142.5 L446.5 143.9 L448.5 145.2 L450.5 146.6 L452.5 147.9 L454.5 149.2 L456.5 150.6 L458.5 151.9 L460.5 153.2 L462.5 154.6 L464.5 155.9 L466.5 157.2 L468.5 158.5 L469.0 158.8" fill="none" stroke="#ff0000" stroke-width="2.8" stroke-dasharray="8.2 3.2" stroke-dashoffset="9.3"/>
<path d="M180.5 254.1 L182.5 254.6 L184.5 255.1 L186.5 255.6 L188.5 256.1 L190.5 256.5 L192.5 257.0 L194.5 257.4 L196.5 257.8 L198.5 258.2 L200.5 258.6 L202.5 258.9 L204.5 259.3 L206.5 259.6 L208.5 259.9 L210.5 260.2 L212.5 260.5 L214.5 260.7 L216.5 261.0 L218.5 261.2 L220.5 261.4 L222.5 261.6 L224.5 261.8 L226.5 262.0 L228.5 262.1 L230.5 262.2 L232.5 262.4 L234.5 262.5 L236.5 262.5 L238.5 262.6 L240.5 262.7 L242.5 262.7 L244.5 262.7 L246.5 262.7 L248.5 262.7 L250.5 262.7 L252.5 262.6 L254.5 262.6 L256.5 262.5 L258.5 262.4 L260.5 262.3 L262.5 262.2 L264.5 262.0 L266.5 261.8 L268.5 261.7 L270.5 261.5 L272.5 261.3 L274.5 261.0 L276.5 260.8 L278.5 260.5 L280.5 260.2 L282.5 260.0 L284.5 259.6 L286.5 259.3 L288.5 259.0 L290.5 258.6 L292.5 258.2 L294.5 257.8 L296.5 257.4 L298.5 257.0 L300.5 256.5 L302.5 256.1 L304.5 255.6 L306.5 255.1 L308.5 254.6 L310.5 254.0 L312.5 253.5 L314.5 252.9 L316.5 252.3 L318.5 251.7 L320.5 251.1 L322.5 250.5 L324.5 249.8 L326.5 249.2 L328.5 248.5 L330.5 247.8 L332.5 247.0 L334.5 246.3 L336.5 245.6 L338.5 244.8 L340.5 244.0 L342.5 243.2 L344.5 242.3 L346.5 241.5 L348.5 240.6 L350.5 239.8 L352.5 238.9 L354.5 238.0 L356.5 237.0 L358.5 236.1 L360.5 235.1 L362.5 234.1 L364.5 233.1 L366.5 232.1 L368.5 231.1 L370.5 230.0 L372.5 228.9 L374.5 227.8 L376.5 226.7 L378.5 225.6 L380.5 224.5 L382.5 223.3 L384.5 222.1 L386.5 220.9 L388.5 219.7 L390.5 218.5 L392.5 217.2 L394.5 216.0 L396.5 214.7 L398.5 213.4 L400.5 212.0 L402.5 210.7 L404.5 209.4 L406.5 208.0 L408.5 206.6 L410.5 205.2 L412.5 203.8 L414.5 202.4 L416.5 200.9 L418.5 199.5 L420.5 198.0 L422.5 196.5 L424.5 195.0 L426.5 193.5 L428.5 191.9 L430.5 190.4 L432.5 188.8 L434.5 187.2 L436.5 185.6 L438.5 184.0 L440.5 182.4 L442.5 180.8 L444.5 179.1 L446.5 177.4 L448.5 175.8 L450.5 174.1 L452.5 172.3 L454.5 170.5 L456.5 168.7 L458.5 166.8 L460.5 164.7 L462.5 162.6 L464.5 160.4 L466.5 158.0 L468.5 155.5" fill="none" stroke="#ff0000" stroke-width="2.8" stroke-dasharray="8.2 3.2" stroke-dashoffset="5.0"/>
<path d="M42.6 111.8 L44.6 110.3 L46.6 108.8 L48.6 107.3 L50.6 105.9 L52.6 104.4 L54.6 103.0 L56.6 101.7 L58.6 100.3 L60.6 99.0 L62.6 97.7 L64.6 96.5 L66.6 95.2 L68.6 94.0 L70.6 92.8 L72.6 91.7 L74.6 90.5 L76.6 89.4 L78.6 88.3 L80.6 87.2 L82.6 86.1 L84.6 85.1 L86.6 84.1 L88.6 83.1 L90.6 82.1 L92.6 81.1 L94.6 80.2 L96.6 79.2 L98.6 78.3 L100.6 77.4 L102.6 76.6 L104.6 75.7 L106.6 74.9 L108.6 74.0 L110.6 73.2 L112.6 72.4 L114.6 71.6 L116.6 70.8 L118.6 70.1 L120.6 69.3 L122.6 68.6 L124.6 67.9 L126.6 67.2 L128.6 66.5 L130.6 65.8 L132.6 65.1 L134.6 64.5 L136.6 63.8 L138.6 63.2 L140.6 62.5 L142.6 61.9 L144.6 61.3 L146.6 60.7 L148.6 60.1 L150.6 59.5 L152.6 58.9 L154.6 58.3 L156.6 57.7 L158.6 57.1 L160.6 56.6 L162.6 56.0 L164.6 55.5 L166.6 54.9 L168.6 54.3 L170.6 53.8 L172.6 53.3 L174.6 52.7 L176.6 52.2 L178.6 51.6 L180.5 51.1" fill="none" stroke="#0000ff" stroke-width="2.9" stroke-linejoin="round"/>
<path d="M42.0 175.1 L44.0 176.9 L46.0 178.6 L48.0 180.4 L50.0 182.1 L52.0 183.8 L54.0 185.4 L56.0 187.0 L58.0 188.6 L60.0 190.2 L62.0 191.8 L64.0 193.3 L66.0 194.8 L68.0 196.3 L70.0 197.8 L72.0 199.2 L74.0 200.6 L76.0 202.0 L78.0 203.4 L80.0 204.7 L82.0 206.1 L84.0 207.4 L86.0 208.7 L88.0 209.9 L90.0 211.2 L92.0 212.4 L94.0 213.6 L96.0 214.8 L98.0 216.0 L100.0 217.2 L102.0 218.3 L104.0 219.4 L106.0 220.6 L108.0 221.7 L110.0 222.7 L112.0 223.8 L114.0 224.9 L116.0 225.9 L118.0 226.9 L120.0 227.9 L122.0 228.9 L124.0 229.9 L126.0 230.9 L128.0 231.9 L130.0 232.8 L132.0 233.8 L134.0 234.7 L136.0 235.6 L138.0 236.5 L140.0 237.4 L142.0 238.3 L144.0 239.2 L146.0 240.1 L148.0 241.0 L150.0 241.8 L152.0 242.7 L154.0 243.5 L156.0 244.4 L158.0 245.2 L160.0 246.1 L162.0 246.9 L164.0 247.7 L166.0 248.5 L168.0 249.3 L170.0 250.1 L172.0 251.0 L174.0 251.8 L176.0 252.6 L178.0 253.4 L180.0 254.2 L181.8 254.9" fill="none" stroke="#0000ff" stroke-width="2.9" stroke-linejoin="round"/>
<g stroke="#666666" stroke-width="0.9" fill="none">
<rect x="27.55" y="0.45" width="458.0" height="283.3"/>
<path d="M27.55 278.23h3.2M485.55 278.23h-3.2M27.55 266.89h3.2M485.55 266.89h-3.2M27.55 255.55h5.3M485.55 255.55h-5.3M27.55 244.21h3.2M485.55 244.21h-3.2M27.55 232.87h3.2M485.55 232.87h-3.2M27.55 221.53h3.2M485.55 221.53h-3.2M27.55 210.19h3.2M485.55 210.19h-3.2M27.55 198.85h5.3M485.55 198.85h-5.3M27.55 187.51h3.2M485.55 187.51h-3.2M27.55 176.17h3.2M485.55 176.17h-3.2M27.55 164.83h3.2M485.55 164.83h-3.2M27.55 153.49h3.2M485.55 153.49h-3.2M27.55 142.15h5.3M485.55 142.15h-5.3M27.55 130.81h3.2M485.55 130.81h-3.2M27.55 119.47h3.2M485.55 119.47h-3.2M27.55 108.13h3.2M485.55 108.13h-3.2M27.55 96.79h3.2M485.55 96.79h-3.2M27.55 85.45h5.3M485.55 85.45h-5.3M27.55 74.11h3.2M485.55 74.11h-3.2M27.55 62.77h3.2M485.55 62.77h-3.2M27.55 51.43h3.2M485.55 51.43h-3.2M27.55 40.09h3.2M485.55 40.09h-3.2M27.55 28.75h5.3M485.55 28.75h-5.3M27.55 17.41h3.2M485.55 17.41h-3.2M27.55 6.07h3.2M485.55 6.07h-3.2M27.60 283.75v-5.3M27.60 0.45v5.3M46.68 283.75v-3.2M46.68 0.45v3.2M65.76 283.75v-3.2M65.76 0.45v3.2M84.84 283.75v-3.2M84.84 0.45v3.2M103.92 283.75v-5.3M103.92 0.45v5.3M123.00 283.75v-3.2M123.00 0.45v3.2M142.08 283.75v-3.2M142.08 0.45v3.2M161.16 283.75v-3.2M161.16 0.45v3.2M180.24 283.75v-5.3M180.24 0.45v5.3M199.32 283.75v-3.2M199.32 0.45v3.2M218.40 283.75v-3.2M218.40 0.45v3.2M237.48 283.75v-3.2M237.48 0.45v3.2M256.56 283.75v-5.3M256.56 0.45v5.3M275.64 283.75v-3.2M275.64 0.45v3.2M294.72 283.75v-3.2M294.72 0.45v3.2M313.80 283.75v-3.2M313.80 0.45v3.2M332.88 283.75v-5.3M332.88 0.45v5.3M351.96 283.75v-3.2M351.96 0.45v3.2M371.04 283.75v-3.2M371.04 0.45v3.2M390.12 283.75v-3.2M390.12 0.45v3.2M409.20 283.75v-5.3M409.20 0.45v5.3M428.28 283.75v-3.2M428.28 0.45v3.2M447.36 283.75v-3.2M447.36 0.45v3.2M466.44 283.75v-3.2M466.44 0.45v3.2M485.52 283.75v-5.3M485.52 0.45v5.3"/>
</g>
<g fill="#666666" font-size="19.8px">
<text x="23.6" y="34.5" text-anchor="end">2</text>
<path transform="translate(18.30 91.25)" d="M-0.9 0V-13.5H0.9V0Z M-0.9 -13.5C-1.1 -12.2 -2.2 -11.1 -4.5 -11.1V-9.3H-0.9Z"/>
<text x="23.6" y="148.0" text-anchor="end">0</text>
<path transform="translate(18.30 204.65)" d="M-0.9 0V-13.5H0.9V0Z M-0.9 -13.5C-1.1 -12.2 -2.2 -11.1 -4.5 -11.1V-9.3H-0.9Z"/>
<path d="M1.2 198.70H10.1" stroke="#666666" stroke-width="1.5" fill="none"/>
<text x="23.6" y="261.4" text-anchor="end">2</text>
<path d="M1.2 255.40H10.1" stroke="#666666" stroke-width="1.5" fill="none"/>
<text x="28.0" y="303.7" text-anchor="middle">0.0</text>
<text x="104.3" y="303.7" text-anchor="middle">0.2</text>
<text x="180.6" y="303.7" text-anchor="middle">0.4</text>
<text x="257.0" y="303.7" text-anchor="middle">0.6</text>
<text x="333.3" y="303.7" text-anchor="middle">0.8</text>
<path transform="translate(401.79 303.70)" d="M-0.9 0V-13.5H0.9V0Z M-0.9 -13.5C-1.1 -12.2 -2.2 -11.1 -4.5 -11.1V-9.3H-0.9Z"/>
<text x="406.85" y="303.7">.0</text>
<path transform="translate(478.11 303.70)" d="M-0.9 0V-13.5H0.9V0Z M-0.9 -13.5C-1.1 -12.2 -2.2 -11.1 -4.5 -11.1V-9.3H-0.9Z"/>
<text x="483.17" y="303.7">.2</text>
</g>
<text x="246.6" y="335.6" font-size="20px" font-style="italic" fill="#666666">q</text>
<text x="257.3" y="326.2" font-size="13.8px" fill="#666666">2</text>
<path d="M51 128.1h26.6" stroke="#0000ff" stroke-width="2.7" fill="none"/><g transform="translate(88 120.2)" fill="none" stroke="#000" stroke-linecap="round" stroke-linejoin="round"><path d="M2.1 7.4C0.2 6.6 0.1 4.2 1.7 2.8C4 0.8 7.4 0.2 10 0.5" stroke-width="1.6"/><path d="M10 0.5C9 3 8.2 5.6 7.6 7.2C6.7 9.8 5.8 12.6 3.3 14.3" stroke-width="1.8"/><path d="M7.5 7.1C10 6.8 13 6 15.4 5.6" stroke-width="1.9"/><path d="M19.5 0.4C17.6 2.8 16.1 5.6 15.7 9.4C15.4 12 15.9 13.2 17 13.6" stroke-width="1.7"/></g><g fill="#000"><text x="108.4" y="126.2" font-size="13.5px">LCSRs</text><text x="108.0" y="139.3" font-size="13.5px">+0</text><text transform="translate(153.0 134.1) scale(1 1.25)" font-size="16.6px">(</text><text x="159.4" y="134.1" font-size="19.5px">q</text><text x="171.0" y="127.1" font-size="13.5px">2</text><text transform="translate(181.5 134.1) scale(1 1.25)" font-size="16.6px">)</text></g><path d="M228 128.1h52.4" stroke="#ff0000" stroke-width="2.2" stroke-dasharray="7.7 3.45" fill="none"/><g transform="translate(292.4 120.2)" fill="none" stroke="#000" stroke-linecap="round" stroke-linejoin="round"><path d="M2.1 7.4C0.2 6.6 0.1 4.2 1.7 2.8C4 0.8 7.4 0.2 10 0.5" stroke-width="1.6"/><path d="M10 0.5C9 3 8.2 5.6 7.6 7.2C6.7 9.8 5.8 12.6 3.3 14.3" stroke-width="1.8"/><path d="M7.5 7.1C10 6.8 13 6 15.4 5.6" stroke-width="1.9"/><path d="M19.5 0.4C17.6 2.8 16.1 5.6 15.7 9.4C15.4 12 15.9 13.2 17 13.6" stroke-width="1.7"/></g><g fill="#000"><text x="312.8" y="126.2" font-size="13.5px">SSE</text><text x="312.4" y="139.3" font-size="13.5px">+0</text><text transform="translate(342.2 134.1) scale(1 1.25)" font-size="16.6px">(</text><text x="348.6" y="134.1" font-size="19.5px">q</text><text x="360.2" y="127.1" font-size="13.5px">2</text><text transform="translate(370.7 134.1) scale(1 1.25)" font-size="16.6px">)</text></g>
<path d="M74 170.5h26.6" stroke="#0000ff" stroke-width="2.7" fill="none"/><g transform="translate(111 162.6)" fill="none" stroke="#000" stroke-linecap="round" stroke-linejoin="round"><path d="M2.1 7.4C0.2 6.6 0.1 4.2 1.7 2.8C4 0.8 7.4 0.2 10 0.5" stroke-width="1.6"/><path d="M10 0.5C9 3 8.2 5.6 7.6 7.2C6.7 9.8 5.8 12.6 3.3 14.3" stroke-width="1.8"/><path d="M7.5 7.1C10 6.8 13 6 15.4 5.6" stroke-width="1.9"/><path d="M19.5 0.4C17.6 2.8 16.1 5.6 15.7 9.4C15.4 12 15.9 13.2 17 13.6" stroke-width="1.7"/></g><g fill="#000"><text x="131.4" y="168.6" font-size="13.5px">LCSRs</text><text x="131.0" y="181.7" font-size="13.5px">−0</text><text transform="translate(176.0 176.5) scale(1 1.25)" font-size="16.6px">(</text><text x="182.4" y="176.5" font-size="19.5px">q</text><text x="194.0" y="169.5" font-size="13.5px">2</text><text transform="translate(204.5 176.5) scale(1 1.25)" font-size="16.6px">)</text></g><path d="M251 170.5h52.4" stroke="#ff0000" stroke-width="2.2" stroke-dasharray="7.7 3.45" fill="none"/><g transform="translate(315.4 162.6)" fill="none" stroke="#000" stroke-linecap="round" stroke-linejoin="round"><path d="M2.1 7.4C0.2 6.6 0.1 4.2 1.7 2.8C4 0.8 7.4 0.2 10 0.5" stroke-width="1.6"/><path d="M10 0.5C9 3 8.2 5.6 7.6 7.2C6.7 9.8 5.8 12.6 3.3 14.3" stroke-width="1.8"/><path d="M7.5 7.1C10 6.8 13 6 15.4 5.6" stroke-width="1.9"/><path d="M19.5 0.4C17.6 2.8 16.1 5.6 15.7 9.4C15.4 12 15.9 13.2 17 13.6" stroke-width="1.7"/></g><g fill="#000"><text x="335.8" y="168.6" font-size="13.5px">SSE</text><text x="335.4" y="181.7" font-size="13.5px">−0</text><text transform="translate(365.2 176.5) scale(1 1.25)" font-size="16.6px">(</text><text x="371.6" y="176.5" font-size="19.5px">q</text><text x="383.2" y="169.5" font-size="13.5px">2</text><text transform="translate(393.7 176.5) scale(1 1.25)" font-size="16.6px">)</text></g>
</svg></body></html>
